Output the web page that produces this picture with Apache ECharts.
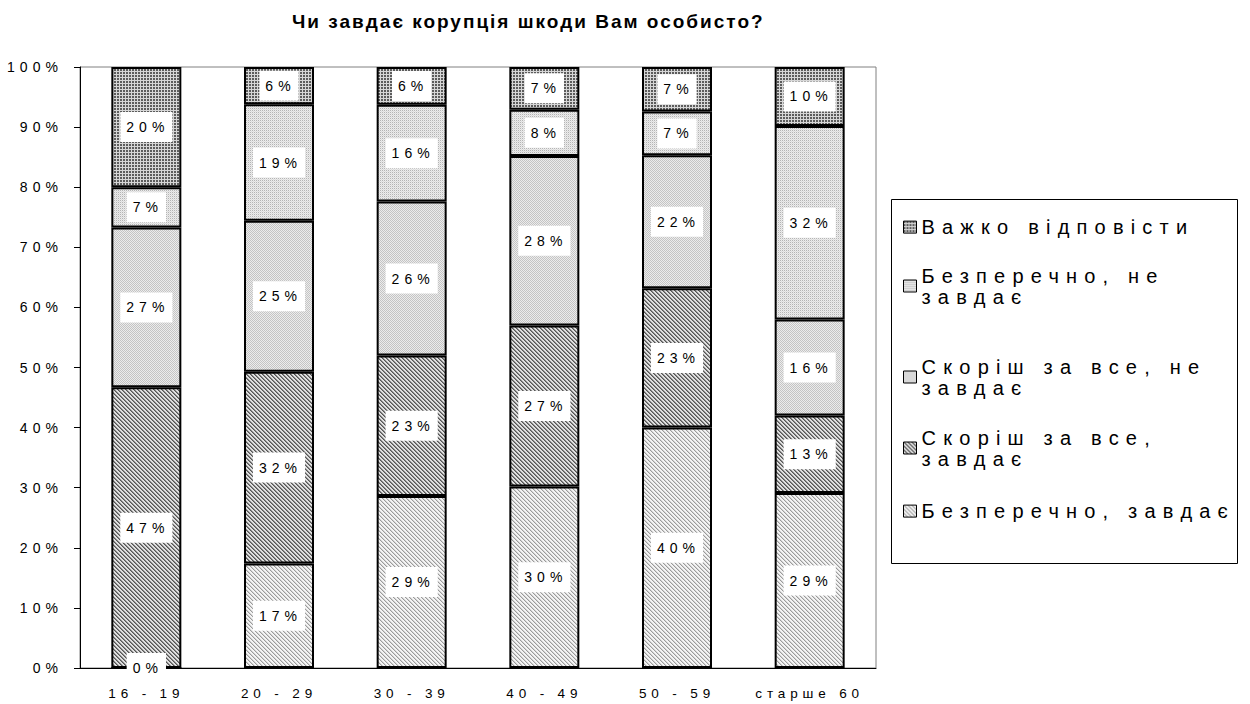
<!DOCTYPE html>
<html>
<head>
<meta charset="utf-8">
<script src="https://cdn.jsdelivr.net/npm/echarts@6/dist/echarts.min.js"></script>
<style>
  html, body { margin: 0; padding: 0; background: #fff; }
  #chart { width: 1250px; height: 704px; }
  /* розрядка тексту як у вихідному малюнку */
  #chart text { letter-spacing: 0.36em; }
  #chart text[style*="bold"] { letter-spacing: 2px; }
</style>
</head>
<body>
<div id="chart"></div>
<script>
const categories = ['16 - 19', '20 - 29', '30 - 39', '40 - 49', '50 - 59', 'старше 60']
const seriesNames = ['Безперечно, завдає', 'Скоріш за все, завдає', 'Скоріш за все, не завдає', 'Безперечно, не завдає', 'Важко відповісти']
const legendTexts = ['Безперечно, завдає', 'Скоріш за все,\nзавдає', 'Скоріш за все, не\nзавдає', 'Безперечно, не\nзавдає', 'Важко відповісти']
const bezZavdaye = [0, 17.4, 28.6, 30.2, 40.0, 29.1]
const skorZavdaye = [46.7, 31.9, 23.4, 26.8, 23.2, 12.9]
const skorNeZavdaye = [26.6, 25.1, 25.6, 28.2, 22.1, 16.0]
const bezNeZavdaye = [6.7, 19.4, 16.1, 7.7, 7.3, 32.2]
const vazhko = [20.0, 6.2, 6.3, 7.1, 7.4, 9.8]

const FONT = 'Liberation Sans'

// ширина тексту з урахуванням розрядки
const mctx = document.createElement('canvas').getContext('2d')
echarts.setPlatformAPI({
  measureText(text, font) {
    mctx.font = font || '12px sans-serif'
    const m = mctx.measureText(text)
    const sizeMatch = /(\d+(\.\d+)?)px/.exec(font || '')
    const size = sizeMatch ? parseFloat(sizeMatch[1]) : 12
    const ls = /bold/.test(font || '') ? 2 : size * 0.36
    return {
      width: m.width + ls * text.length,
      actualBoundingBoxAscent: m.actualBoundingBoxAscent,
      actualBoundingBoxDescent: m.actualBoundingBoxDescent
    }
  }
})

// штрихування
function makePattern(size, draw) {
  const c = document.createElement('canvas')
  c.width = size
  c.height = size
  const ctx = c.getContext('2d')
  draw((x, y, color) => {
    ctx.fillStyle = color
    ctx.fillRect(x, y, 1, 1)
  })
  return { image: c, repeat: 'repeat', imageWidth: size, imageHeight: size }
}

const patterns = [
  // Безперечно, завдає — світлі діагоналі
  makePattern(4, (px) => {
    for (let x = 0; x < 4; x++) for (let y = 0; y < 4; y++) {
      const d = (x - y + 4) % 4
      px(x, y, d === 0 ? '#9a9a9a' : d === 1 ? '#d4d4d4' : '#f4f4f4')
    }
  }),
  // Скоріш за все, завдає — темні діагоналі
  makePattern(4, (px) => {
    for (let x = 0; x < 4; x++) for (let y = 0; y < 4; y++) {
      const d = (x - y + 4) % 4
      px(x, y, d === 0 ? '#555555' : d === 1 ? '#8a8a8a' : '#e0e0e0')
    }
  }),
  // Скоріш за все, не завдає — крапки
  makePattern(4, (px) => {
    for (let x = 0; x < 4; x++) for (let y = 0; y < 4; y++) {
      px(x, y, (x + y) % 2 === 0 ? '#c4c4c4' : '#ececec')
    }
  }),
  // Безперечно, не завдає — дрібні світлі крапки
  makePattern(2, (px) => {
    px(0, 0, '#b4b4b4'); px(1, 0, '#ececec'); px(0, 1, '#ececec'); px(1, 1, '#dcdcdc')
  }),
  // Важко відповісти — сітка
  makePattern(3, (px) => {
    for (let x = 0; x < 3; x++) for (let y = 0; y < 3; y++) {
      px(x, y, x < 2 && y < 2 ? '#5c5c5c' : '#d6d6d6')
    }
  })
]

const values = [bezZavdaye, skorZavdaye, skorNeZavdaye, bezNeZavdaye, vazhko]

const series = seriesNames.map((name, i) => ({
  name: name,
  type: 'bar',
  stack: 'total',
  barWidth: 70,
  data: values[i],
  itemStyle: {
    color: patterns[i],
    borderColor: '#000',
    borderWidth: 2
  },
  label: {
    show: true,
    position: 'inside',
    formatter: (p) => Math.round(p.value) + '%',
    color: '#000',
    fontFamily: FONT,
    fontSize: 14,
    lineHeight: 14,
    backgroundColor: '#fff',
    padding: [8, 3, 8, 6]
  }
}))

// легенда: кожен пункт окремо, перший рядок навпроти значка
const legendFirstLine = [508, 448, 377, 286, 224]
const legends = seriesNames.map((name, i) => {
  const lines = legendTexts[i].split('\n').length
  const lh = 21
  const half = (lh * lines + lh * (lines - 1)) / 2
  return {
    data: [name],
    left: 903,
    top: legendFirstLine[i] - half,
    orient: 'vertical',
    padding: 0,
    icon: 'rect',
    itemWidth: 13,
    itemHeight: 12,
    itemStyle: { borderWidth: 1, borderColor: '#000' },
    formatter: () => legendTexts[i],
    textStyle: {
      color: '#000',
      fontFamily: FONT,
      fontSize: 20,
      lineHeight: lh,
      padding: [lh * (lines - 1), 0, 0, 0]
    }
  }
})

const myChart = echarts.init(document.getElementById('chart'), null, { renderer: 'svg' })
myChart.setOption({
  animation: false,
  title: {
    text: 'Чи завдає корупція шкоди Вам особисто?',
    left: 292,
    top: 11,
    padding: 0,
    textStyle: {
      fontFamily: FONT,
      fontSize: 19,
      fontWeight: 'bold',
      color: '#000'
    }
  },
  legend: legends,
  grid: {
    left: 80,
    right: 374,
    top: 67,
    bottom: 36,
    show: true,
    borderColor: '#808080',
    borderWidth: 1
  },
  xAxis: {
    type: 'category',
    data: categories,
    axisLine: { lineStyle: { color: '#000', width: 1 } },
    axisTick: { length: 6, lineStyle: { color: '#000' } },
    axisLabel: { interval: 0, color: '#000', fontFamily: FONT, fontSize: 13.5, margin: 16 }
  },
  yAxis: {
    type: 'value',
    min: 0,
    max: 100,
    interval: 10,
    splitLine: { show: false },
    axisLine: { show: true, lineStyle: { color: '#000', width: 1 } },
    axisTick: { show: true, length: 6, lineStyle: { color: '#000' } },
    axisLabel: { color: '#000', fontFamily: FONT, fontSize: 14, margin: 17, formatter: '{value}%' }
  },
  graphic: [{
    type: 'rect',
    shape: { x: 891.5, y: 199.5, width: 346, height: 364 },
    style: { fill: 'none', stroke: '#000', lineWidth: 1 },
    z: -1
  }],
  series: series
})
</script>
</body>
</html>
